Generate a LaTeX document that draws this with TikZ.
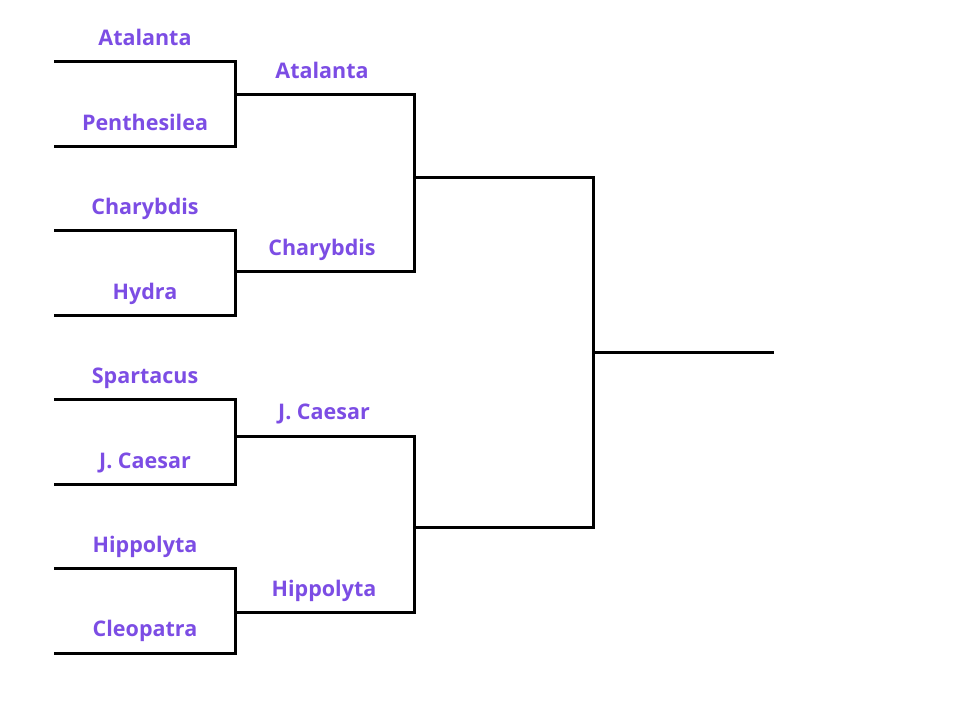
\documentclass[tikz,border=0pt]{standalone}
\usepackage{fontspec}
\setmainfont{Open Sans}
\definecolor{lbl}{RGB}{124,77,228}
\begin{document}
\begin{tikzpicture}[x=1pt,y=-1pt,
  br/.style={line width=3pt,line cap=rect,line join=miter},
  player/.style={text=lbl,font=\fontsize{21.5}{24}\selectfont\bfseries,inner sep=0pt,anchor=base}]
\useasboundingbox (0,0) rectangle (960,720);
% round 1 lines
\foreach \n/\ya/\yb/\ym in {a/61/146/94, b/230/315/271, c/399/484/436, d/568/653/612}{
  \coordinate (\n-1) at (55,\ya);
  \coordinate (\n-2) at (55,\yb);
  \coordinate (\n-1e) at (235,\ya);
  \coordinate (\n-2e) at (235,\yb);
  \coordinate (\n-m) at (235,\ym);
  \coordinate (\n-r) at (414,\ym);
  \draw[br] (\n-1) -- (\n-1e) -- (\n-2e) -- (\n-2);
  \draw[br] (\n-m) -- (\n-r);
}
\coordinate (ab) at (414,177);
\coordinate (abr) at (593,177);
\coordinate (cd) at (414,527);
\coordinate (cdr) at (593,527);
\draw[br] (a-r) -- (b-r);
\draw[br] (c-r) -- (d-r);
\draw[br] (ab) -- (abr);
\draw[br] (cd) -- (cdr);
\draw[br] (abr) -- (cdr);
\coordinate (f) at (593,352);
\coordinate (fe) at (772,352);
\draw[br] (f) -- (fe);
% labels (baselines)
\node[player] (t1) at (145,45) {Atalanta};
\node[player] (t2) at (145,130) {Penthesilea};
\node[player] (t3) at (145,214) {Charybdis};
\node[player] (t4) at (145,299) {Hydra};
\node[player] (t5) at (145,383) {Spartacus};
\node[player] (t6) at (145,468) {J. Caesar};
\node[player] (t7) at (145,552) {Hippolyta};
\node[player] (t8) at (145,636) {Cleopatra};
\node[player] (s1) at (322,78) {Atalanta};
\node[player] (s2) at (322,255) {Charybdis};
\node[player] (s3) at (324,419) {J. Caesar};
\node[player] (s4) at (324,596) {Hippolyta};
\end{tikzpicture}
\end{document}
